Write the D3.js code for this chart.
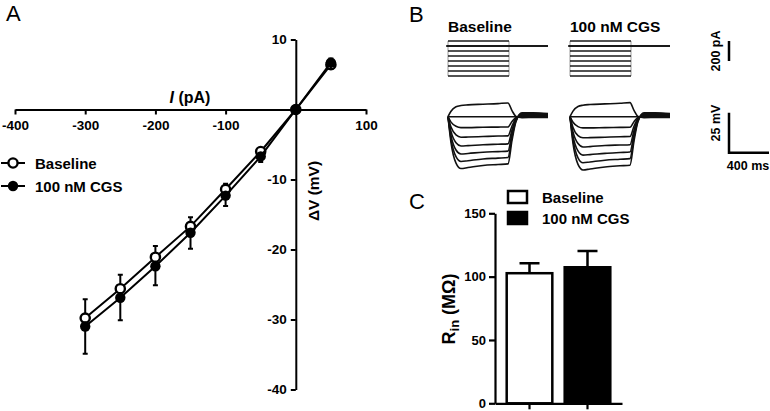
<!DOCTYPE html>
<html>
<head>
<meta charset="utf-8">
<script src="https://cdn.jsdelivr.net/npm/d3@7"></script>
<style>
  body { margin: 0; background: #fff; }
  svg { display: block; font-family: "Liberation Sans", Arial, sans-serif; }
  .bold { font-weight: bold; }
</style>
</head>
<body>
<svg id="fig" width="770" height="411"></svg>
<script>
// ---- panel A: I-V relation ----
let ivCurrent = [-300, -250, -200, -150, -100, -50, 0, 50];
let ivBaseline = [-29.8, -25.6, -21.1, -16.7, -11.4, -6.0, 0, 6.4];
let ivBaselineSem = [2.7, 2.0, 1.6, 1.3, 0.8, 0.5, 0, 0.9];
let ivCgs = [-31.0, -26.9, -22.4, -17.6, -12.3, -6.7, 0, 6.7];
let ivCgsSem = [3.9, 3.2, 2.7, 2.3, 1.5, 0.8, 0, 0.9];
let xTicksA = [-400, -300, -200, -100, 0, 100];
let yTicksA = [10, -10, -20, -30, -40];

// ---- panel B: example traces ----
let currentSteps = [50, 0, -50, -100, -150, -200, -250, -300];
let traceTimes = [0, 30, 80, 130, 200, 350, 500, 600, 640, 680, 740, 850, 1000];
let tracesBaseline = [
  [0, 3.4, 6.2, 7.0, 7.4, 7.8, 8.2, 8.6, 3.8, 0.2, -0.6, -0.5, -0.4],
  [0, 0, 0, 0, 0, 0, 0, 0, 0, 0, 0.2, 0.3, 0.3],
  [0, -3.4, -6.0, -6.8, -6.8, -6.6, -6.5, -6.4, -3.0, -0.5, 0.4, 0.5, 0.4],
  [0, -6.5, -11.4, -12.8, -12.7, -12.4, -12.1, -12.0, -5.8, -1.0, 0.8, 0.9, 0.7],
  [0, -9.2, -16.3, -18.3, -18.1, -17.5, -17.2, -17.0, -8.3, -1.5, 1.2, 1.3, 1.0],
  [0, -11.8, -20.8, -23.3, -23.0, -22.2, -21.8, -21.5, -10.6, -2.0, 1.6, 1.7, 1.3],
  [0, -14.0, -25.0, -28.0, -27.5, -26.4, -25.9, -25.5, -12.7, -2.5, 2.0, 2.1, 1.6],
  [0, -16.2, -29.0, -32.4, -31.8, -30.5, -29.9, -29.5, -14.8, -3.0, 2.4, 2.5, 1.9]
];
let tracesCgs = [
  [0, 3.5, 6.4, 7.2, 7.6, 8.0, 8.4, 8.8, 3.9, 0.2, -0.6, -0.5, -0.4],
  [0, 0, 0, 0, 0, 0, 0, 0, 0, 0, 0.2, 0.3, 0.3],
  [0, -3.5, -6.2, -7.0, -7.0, -6.8, -6.7, -6.6, -3.1, -0.5, 0.4, 0.5, 0.4],
  [0, -6.7, -11.8, -13.2, -13.1, -12.8, -12.5, -12.4, -6.0, -1.0, 0.8, 0.9, 0.7],
  [0, -9.5, -16.8, -18.9, -18.7, -18.0, -17.7, -17.5, -8.6, -1.5, 1.2, 1.3, 1.0],
  [0, -12.1, -21.4, -24.0, -23.7, -22.9, -22.4, -22.1, -10.9, -2.0, 1.6, 1.7, 1.3],
  [0, -14.4, -25.7, -28.8, -28.3, -27.2, -26.6, -26.2, -13.1, -2.5, 2.0, 2.1, 1.6],
  [0, -16.7, -29.8, -33.3, -32.7, -31.4, -30.7, -30.3, -15.2, -3.0, 2.4, 2.5, 1.9]
];
let stepEnd = 610;

// ---- panel C: input resistance ----
let rinGroups = ["Baseline", "100 nM CGS"];
let rinMean = [102.7, 107.4];
let rinSem = [7.8, 12.9];
let yTicksC = [0, 50, 100, 150];

let svg = d3.select("#fig");
let plain = function(d) { return String(d); };

// panel letters
svg.append("text").attr("x", 6).attr("y", 21).attr("font-size", 22).text("A");
svg.append("text").attr("x", 409).attr("y", 22).attr("font-size", 22).text("B");
svg.append("text").attr("x", 409).attr("y", 209).attr("font-size", 22).text("C");

// ================= A =================
let xA = d3.scaleLinear().domain([-400, 100]).range([15, 366]);
let yA = d3.scaleLinear().domain([-40, 10]).range([389.5, 39.5]);

let gxA = svg.append("g")
  .attr("transform", "translate(0," + yA(0) + ")")
  .call(d3.axisBottom(xA).tickValues(xTicksA).tickSize(5).tickSizeOuter(0).tickPadding(6)
    .tickFormat(function(d) { return d === 0 ? "" : String(d); }));
let gyA = svg.append("g")
  .attr("transform", "translate(" + xA(0) + ",0)")
  .call(d3.axisLeft(yA).tickValues(yTicksA).tickSize(5).tickSizeOuter(0).tickPadding(4)
    .tickFormat(plain));
[gxA, gyA].forEach(function(g) {
  g.selectAll("path, line").attr("stroke", "#000").attr("stroke-width", 2);
  g.selectAll("text").attr("font-size", 13.5).attr("font-weight", "bold")
    .attr("font-family", "Liberation Sans, Arial, sans-serif").attr("fill", "#000");
});

let lblI = svg.append("text").attr("class", "bold").attr("x", 190).attr("y", 103)
  .attr("text-anchor", "middle").attr("font-size", 16);
lblI.append("tspan").attr("font-style", "italic").text("I");
lblI.append("tspan").text(" (pA)");

svg.append("text").attr("class", "bold").attr("font-size", 15.5)
  .attr("text-anchor", "middle")
  .attr("transform", "translate(319,191) rotate(-90)")
  .text("\u0394V (mV)");

let lineA = d3.line()
  .x(function(d) { return xA(d[0]); })
  .y(function(d) { return yA(d[1]); });

function ivSeries(vals, sems, dir, filled) {
  let pts = ivCurrent.map(function(c, i) { return [c, vals[i], sems[i]]; });
  let g = svg.append("g");
  g.append("path").datum(pts).attr("d", lineA)
    .attr("fill", "none").attr("stroke", "#000").attr("stroke-width", 2);
  g.selectAll(".eb").data(pts.filter(function(d) { return d[2] > 0; })).enter()
    .append("path")
    .attr("d", function(d) {
      let x = xA(d[0]), y0 = yA(d[1]), y1 = yA(d[1] + dir * d[2]);
      return "M" + x + "," + y0 + "V" + y1 + "M" + (x - 2.5) + "," + y1 + "H" + (x + 2.5);
    })
    .attr("stroke", "#000").attr("stroke-width", 2).attr("fill", "none");
  g.selectAll("circle").data(pts).enter().append("circle")
    .attr("cx", function(d) { return xA(d[0]); })
    .attr("cy", function(d) { return yA(d[1]); })
    .attr("r", filled ? 5.2 : 4.6)
    .attr("fill", filled ? "#000" : "#fff")
    .attr("stroke", "#000").attr("stroke-width", filled ? 0 : 2.4);
}
ivSeries(ivBaseline, ivBaselineSem, 1, false);
ivSeries(ivCgs, ivCgsSem, -1, true);

// legend A
let legA = [["Baseline", false, 163], ["100 nM CGS", true, 186]];
legA.forEach(function(l) {
  svg.append("line").attr("x1", 1).attr("x2", 25).attr("y1", l[2]).attr("y2", l[2])
    .attr("stroke", "#000").attr("stroke-width", 2);
  svg.append("circle").attr("cx", 13).attr("cy", l[2]).attr("r", l[1] ? 5.2 : 4.6)
    .attr("fill", l[1] ? "#000" : "#fff").attr("stroke", "#000")
    .attr("stroke-width", l[1] ? 0 : 2.4);
  svg.append("text").attr("class", "bold").attr("x", 35).attr("y", l[2] + 5.5)
    .attr("font-size", 15).text(l[0]);
});

// ================= B =================
let yI = d3.scaleLinear().domain([-300, 50]).range([76, 41]);
let yV = d3.scaleLinear().domain([-40, 10]).range([116.7 + 64, 116.7 - 16]);

let panelsB = [
  { title: "Baseline", x0: 448, traces: tracesBaseline },
  { title: "100 nM CGS", x0: 570, traces: tracesCgs }
];

panelsB.forEach(function(p) {
  let xB = d3.scaleLinear().domain([0, 1000]).range([p.x0, p.x0 + 100]);
  svg.append("text").attr("class", "bold").attr("x", p.x0).attr("y", 32)
    .attr("font-size", 15.5).text(p.title);

  let gI = svg.append("g");
  // step edges
  [0, stepEnd].forEach(function(t) {
    gI.append("line").attr("x1", xB(t)).attr("x2", xB(t))
      .attr("y1", yI(d3.max(currentSteps))).attr("y2", yI(d3.min(currentSteps)))
      .attr("stroke", "#9a9a9a").attr("stroke-width", 1);
  });
  gI.selectAll(".lvl").data(currentSteps).enter().append("line")
    .attr("x1", function(d) { return d === 0 ? xB(-18) : xB(0); })
    .attr("x2", function(d) { return d === 0 ? xB(1000) : xB(stepEnd); })
    .attr("y1", function(d) { return yI(d); })
    .attr("y2", function(d) { return yI(d); })
    .attr("stroke", "#1a1a1a").attr("stroke-width", function(d) { return d === 0 ? 2 : 1.5; });

  let lineV = d3.line()
    .x(function(d, i) { return xB(traceTimes[i]); })
    .y(function(d) { return yV(d); })
    .curve(d3.curveMonotoneX);
  svg.append("g").selectAll("path").data(p.traces).enter().append("path")
    .attr("d", lineV).attr("fill", "none")
    .attr("stroke", "#111").attr("stroke-width", 1.6);
});

// scale bars
let sbX = 729;
svg.append("line").attr("x1", sbX).attr("x2", sbX).attr("y1", yI(50)).attr("y2", yI(50) + (yI(-200) - yI(0)))
  .attr("stroke", "#000").attr("stroke-width", 2.5);
svg.append("text").attr("class", "bold").attr("font-size", 12.5).attr("text-anchor", "middle")
  .attr("transform", "translate(720,51) rotate(-90)").text("200 pA");
svg.append("path")
  .attr("d", "M" + sbX + "," + (yV(0) - 4) + "V" + (yV(0) - 4 + (yV(-25) - yV(0))) + "H" + (sbX + 40))
  .attr("fill", "none").attr("stroke", "#000").attr("stroke-width", 2.5);
svg.append("text").attr("class", "bold").attr("font-size", 12.5).attr("text-anchor", "middle")
  .attr("transform", "translate(720,123) rotate(-90)").text("25 mV");
svg.append("text").attr("class", "bold").attr("font-size", 12.5).attr("text-anchor", "middle")
  .attr("x", 748).attr("y", 170).text("400 ms");

// ================= C =================
let xC = d3.scaleBand().domain(rinGroups).range([495, 622]).paddingInner(0.172).paddingOuter(0.181);
let yC = d3.scaleLinear().domain([0, 150]).range([403.3, 213.3]);

let gyC = svg.append("g").attr("transform", "translate(495,0)")
  .call(d3.axisLeft(yC).tickValues(yTicksC).tickSize(6).tickSizeOuter(0).tickPadding(3)
    .tickFormat(plain));
let gxC = svg.append("g").attr("transform", "translate(0," + yC(0) + ")")
  .call(d3.axisBottom(xC).tickSize(6).tickSizeOuter(0).tickFormat(""));
[gyC, gxC].forEach(function(g) {
  g.selectAll("path, line").attr("stroke", "#000").attr("stroke-width", 2.2);
  g.selectAll("text").attr("font-size", 13).attr("font-weight", "bold")
    .attr("font-family", "Liberation Sans, Arial, sans-serif").attr("fill", "#000");
});

let bars = svg.append("g");
rinGroups.forEach(function(gname, i) {
  let cx = xC(gname) + xC.bandwidth() / 2;
  let top = yC(rinMean[i]), up = yC(rinMean[i] + rinSem[i]);
  bars.append("path")
    .attr("d", "M" + cx + "," + top + "V" + up + "M" + (cx - 10) + "," + up + "H" + (cx + 10))
    .attr("stroke", "#000").attr("stroke-width", 2.5).attr("fill", "none");
  bars.append("rect")
    .attr("x", xC(gname) + 1.2).attr("width", xC.bandwidth() - 2.4)
    .attr("y", top).attr("height", yC(0) - top)
    .attr("fill", i === 0 ? "#fff" : "#000")
    .attr("stroke", "#000").attr("stroke-width", 2.5);
});

let rl = svg.append("text").attr("class", "bold").attr("font-size", 18)
  .attr("text-anchor", "middle").attr("transform", "translate(455,309) rotate(-90)");
rl.append("tspan").text("R");
rl.append("tspan").attr("font-size", 13).attr("dy", 4).text("in");
rl.append("tspan").attr("dy", -4).text(" (M\u03A9)");

// legend C
rinGroups.forEach(function(gname, i) {
  let y = 191 + i * 21;
  svg.append("rect").attr("x", 508).attr("y", y).attr("width", 19).attr("height", 12)
    .attr("fill", i === 0 ? "#fff" : "#000").attr("stroke", "#000").attr("stroke-width", 2.5);
  svg.append("text").attr("class", "bold").attr("x", 542).attr("y", y + 11.5)
    .attr("font-size", 15).text(gname);
});
</script>
</body>
</html>
